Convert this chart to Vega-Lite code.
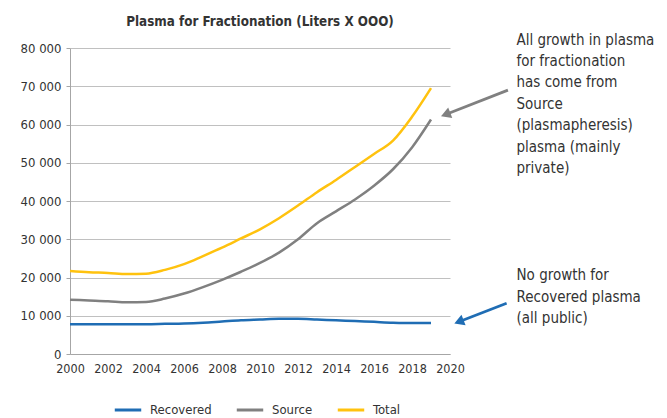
{
  "$schema": "https://vega.github.io/schema/vega-lite/v6.json",
  "width": 380,
  "height": 306,
  "autosize": {"type": "none"},
  "padding": {"left": 70, "top": 48, "right": 217, "bottom": 64},
  "background": "white",
  "config": {
    "view": {"stroke": null},
    "font": "Liberation Sans Narrow, DejaVu Sans Condensed, Roboto Condensed, Roboto, sans-serif",
    "locale": {"number": {"decimal": ".", "thousands": " ", "grouping": [3], "currency": ["", ""]}},
    "axisX": {"grid": false, "labelOverlap": false, "labelFlush": false, "domainColor": "#a6a6a6", "ticks": false, "labelPadding": 8, "labelFontSize": 12.5, "labelColor": "#333333"},
    "axisY": {"labelOverlap": false, "labelFlush": false, "domainColor": "#a6a6a6", "tickColor": "#a6a6a6", "tickSize": 4, "gridColor": "#c0c0c0", "labelPadding": 5, "labelFontSize": 13, "labelColor": "#333333"}
  },
  "title": {
    "text": "Plasma for Fractionation (Liters X OOO)",
    "anchor": "middle",
    "frame": "group",
    "fontSize": 13.3,
    "fontWeight": "bold",
    "color": "#333333",
    "offset": 4
  },
  "datasets": {
    "series": [
      {"year": 2000, "type": "Recovered", "value": 7800},
      {"year": 2001, "type": "Recovered", "value": 7800},
      {"year": 2002, "type": "Recovered", "value": 7800},
      {"year": 2003, "type": "Recovered", "value": 7800},
      {"year": 2004, "type": "Recovered", "value": 7800},
      {"year": 2005, "type": "Recovered", "value": 7900},
      {"year": 2006, "type": "Recovered", "value": 8000},
      {"year": 2007, "type": "Recovered", "value": 8200},
      {"year": 2008, "type": "Recovered", "value": 8500},
      {"year": 2009, "type": "Recovered", "value": 8800},
      {"year": 2010, "type": "Recovered", "value": 9000},
      {"year": 2011, "type": "Recovered", "value": 9200},
      {"year": 2012, "type": "Recovered", "value": 9200},
      {"year": 2013, "type": "Recovered", "value": 9000},
      {"year": 2014, "type": "Recovered", "value": 8800},
      {"year": 2015, "type": "Recovered", "value": 8600},
      {"year": 2016, "type": "Recovered", "value": 8400},
      {"year": 2017, "type": "Recovered", "value": 8200},
      {"year": 2018, "type": "Recovered", "value": 8100},
      {"year": 2019, "type": "Recovered", "value": 8100},
      {"year": 2000, "type": "Source", "value": 14200},
      {"year": 2001, "type": "Source", "value": 14000},
      {"year": 2002, "type": "Source", "value": 13800},
      {"year": 2003, "type": "Source", "value": 13500},
      {"year": 2004, "type": "Source", "value": 13600},
      {"year": 2005, "type": "Source", "value": 14500},
      {"year": 2006, "type": "Source", "value": 15800},
      {"year": 2007, "type": "Source", "value": 17500},
      {"year": 2008, "type": "Source", "value": 19400},
      {"year": 2009, "type": "Source", "value": 21500},
      {"year": 2010, "type": "Source", "value": 23800},
      {"year": 2011, "type": "Source", "value": 26500},
      {"year": 2012, "type": "Source", "value": 30000},
      {"year": 2013, "type": "Source", "value": 34200},
      {"year": 2014, "type": "Source", "value": 37300},
      {"year": 2015, "type": "Source", "value": 40400},
      {"year": 2016, "type": "Source", "value": 44000},
      {"year": 2017, "type": "Source", "value": 48300},
      {"year": 2018, "type": "Source", "value": 54000},
      {"year": 2019, "type": "Source", "value": 61300},
      {"year": 2000, "type": "Total", "value": 21700},
      {"year": 2001, "type": "Total", "value": 21400},
      {"year": 2002, "type": "Total", "value": 21200},
      {"year": 2003, "type": "Total", "value": 20900},
      {"year": 2004, "type": "Total", "value": 21000},
      {"year": 2005, "type": "Total", "value": 22000},
      {"year": 2006, "type": "Total", "value": 23500},
      {"year": 2007, "type": "Total", "value": 25600},
      {"year": 2008, "type": "Total", "value": 27800},
      {"year": 2009, "type": "Total", "value": 30200},
      {"year": 2010, "type": "Total", "value": 32600},
      {"year": 2011, "type": "Total", "value": 35500},
      {"year": 2012, "type": "Total", "value": 38800},
      {"year": 2013, "type": "Total", "value": 42300},
      {"year": 2014, "type": "Total", "value": 45500},
      {"year": 2015, "type": "Total", "value": 48900},
      {"year": 2016, "type": "Total", "value": 52300},
      {"year": 2017, "type": "Total", "value": 55800},
      {"year": 2018, "type": "Total", "value": 62000},
      {"year": 2019, "type": "Total", "value": 69500}
    ],
    "arrows": [
      {"type": "Source", "x": 2023.05, "y": 69000, "x2": 2019.77, "y2": 62600},
      {"type": "Recovered", "x": 2022.98, "y": 13250, "x2": 2020.47, "y2": 8420}
    ],
    "notes": [
      {"x": 2023.5, "y": 84000, "label": "All growth in plasma\nfor fractionation\nhas come from\nSource\n(plasmapheresis)\nplasma (mainly\nprivate)"},
      {"x": 2023.5, "y": 22400, "label": "No growth for\nRecovered plasma\n(all public)"}
    ]
  },
  "layer": [
    {
      "data": {"name": "series"},
      "mark": {"type": "line", "interpolate": "monotone", "strokeWidth": 2.5},
      "encoding": {
        "x": {
          "field": "year", "type": "quantitative",
          "scale": {"domain": [2000, 2020], "nice": false, "zero": false},
          "axis": {"values": [2000, 2002, 2004, 2006, 2008, 2010, 2012, 2014, 2016, 2018, 2020], "format": "d", "title": null}
        },
        "y": {
          "field": "value", "type": "quantitative",
          "scale": {"domain": [0, 80000], "nice": false},
          "axis": {"values": [0, 10000, 20000, 30000, 40000, 50000, 60000, 70000, 80000], "format": ",d", "title": null}
        },
        "color": {
          "field": "type", "type": "nominal",
          "scale": {"domain": ["Recovered", "Source", "Total"], "range": ["#1f6db4", "#808080", "#ffc20e"]},
          "legend": {
            "title": null, "orient": "none", "direction": "horizontal",
            "legendX": 43, "legendY": 347,
            "symbolType": "stroke", "symbolStrokeWidth": 3, "symbolSize": 700,
            "labelOffset": 7,
            "labelFontSize": 13, "labelColor": "#333333", "columnPadding": 18
          }
        }
      }
    },
    {
      "data": {"name": "arrows"},
      "mark": {"type": "rule", "strokeWidth": 2.8, "clip": false},
      "encoding": {
        "x": {"field": "x", "type": "quantitative", "axis": {"values": [2000, 2002, 2004, 2006, 2008, 2010, 2012, 2014, 2016, 2018, 2020], "format": "d", "title": null}},
        "y": {"field": "y", "type": "quantitative", "axis": {"values": [0, 10000, 20000, 30000, 40000, 50000, 60000, 70000, 80000], "format": ",d", "title": null}},
        "x2": {"field": "x2"},
        "y2": {"field": "y2"},
        "color": {"field": "type", "type": "nominal", "legend": null}
      }
    },
    {
      "data": {"name": "arrows"},
      "mark": {"type": "point", "shape": "triangle-up", "filled": true, "opacity": 1, "size": 130, "angle": 249, "clip": false},
      "encoding": {
        "x": {"field": "x2", "type": "quantitative", "axis": {"values": [2000, 2002, 2004, 2006, 2008, 2010, 2012, 2014, 2016, 2018, 2020], "format": "d", "title": null}},
        "y": {"field": "y2", "type": "quantitative", "axis": {"values": [0, 10000, 20000, 30000, 40000, 50000, 60000, 70000, 80000], "format": ",d", "title": null}},
        "color": {"field": "type", "type": "nominal", "legend": null}
      }
    },
    {
      "data": {"name": "notes"},
      "mark": {"type": "text", "align": "left", "baseline": "top", "lineBreak": "\n", "lineHeight": 21.4, "fontSize": 15, "color": "#333333", "clip": false},
      "encoding": {
        "x": {"field": "x", "type": "quantitative", "axis": {"values": [2000, 2002, 2004, 2006, 2008, 2010, 2012, 2014, 2016, 2018, 2020], "format": "d", "title": null}},
        "y": {"field": "y", "type": "quantitative", "axis": {"values": [0, 10000, 20000, 30000, 40000, 50000, 60000, 70000, 80000], "format": ",d", "title": null}},
        "text": {"field": "label"}
      }
    }
  ]
}
